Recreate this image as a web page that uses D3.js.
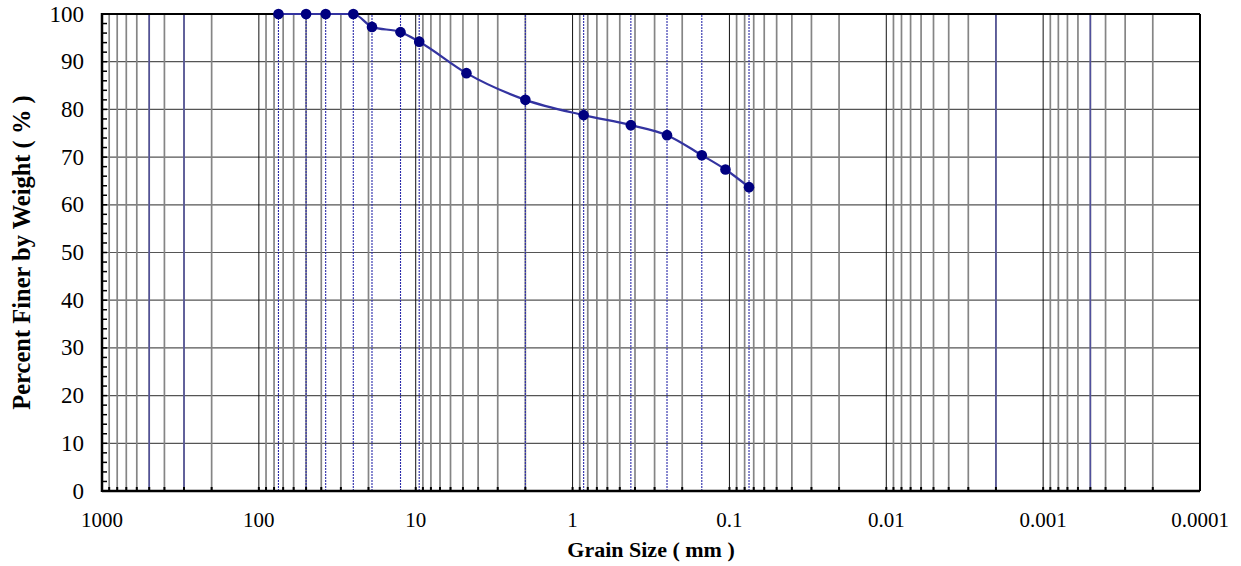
<!DOCTYPE html>
<html>
<head>
<meta charset="utf-8">
<script src="https://cdn.jsdelivr.net/npm/d3@7"></script>
<style>
  html, body { margin: 0; padding: 0; background: #fff; }
  svg { display: block; }
  svg text { font-family: "Liberation Serif", "Times New Roman", "DejaVu Serif", serif; fill: #000; }
</style>
</head>
<body>
<svg id="chart" width="1241" height="566"></svg>
<script>
// Grain size distribution (sieve analysis)
const grainSize = [75, 50, 37.5, 25, 19, 12.5, 9.5, 4.75, 2.0, 0.85, 0.425, 0.25, 0.15, 0.106, 0.075];
const percentFiner = [100, 100, 100, 100, 97.3, 96.2, 94.2, 87.6, 82.0, 78.8, 76.7, 74.6, 70.4, 67.4, 63.7];

// Axis labels
const xTickValues = [1000, 100, 10, 1, 0.1, 0.01, 0.001, 0.0001];
const xTickLabels = ["1000", "100", "10", "1", "0.1", "0.01", "0.001", "0.0001"];
const yTickValues = [0, 10, 20, 30, 40, 50, 60, 70, 80, 90, 100];

// Reference lines: sieve openings (dotted) and size-class boundaries (solid)
const sieveLines = [75, 50, 37.5, 25, 19, 12.5, 9.5, 2.0, 0.85, 0.425, 0.25, 0.15, 0.075];
const classLines = [500, 300, 0.002, 0.0005];

const FONT = "'Liberation Serif', 'Times New Roman', 'DejaVu Serif', serif";

const svg = d3.select("#chart");
const margin = { left: 102, right: 41, top: 14, bottom: 75 };
const W = 1241, H = 566;

const x = d3.scaleLog().domain([1000, 0.0001]).range([margin.left, W - margin.right]);
const y = d3.scaleLinear().domain([0, 100]).range([H - margin.bottom, margin.top]);

const x0 = x.range()[0], x1 = x.range()[1];
const y0 = y.range()[0], y1 = y.range()[1];

// log-cycle multiples within each decade
const minorVals = [];
const decadeVals = [];
for (let e = 2; e >= -4; e--) {
  const base = Math.pow(10, e);
  decadeVals.push(base * 10);
  for (let m = 2; m <= 9; m++) minorVals.push(+(base * m).toPrecision(6));
}
decadeVals.push(0.0001);

const grid = svg.append("g");

// horizontal grid
grid.selectAll("line.h").data(yTickValues.filter(v => v > 0 && v < 100)).join("line")
  .attr("x1", x0).attr("x2", x1)
  .attr("y1", d => y(d)).attr("y2", d => y(d))
  .attr("stroke", "#555").attr("stroke-width", 1.2);

// minor vertical grid
grid.selectAll("line.m").data(minorVals).join("line")
  .attr("x1", d => x(d)).attr("x2", d => x(d))
  .attr("y1", y0).attr("y2", y1)
  .attr("stroke", "#858585").attr("stroke-width", 1.7);

// decade lines
grid.selectAll("line.d").data(decadeVals.filter(v => v < 1000 && v > 0.0001)).join("line")
  .attr("x1", d => x(d)).attr("x2", d => x(d))
  .attr("y1", y0).attr("y2", y1)
  .attr("stroke", "#111").attr("stroke-width", 1);

// size-class boundaries
grid.selectAll("line.c").data(classLines).join("line")
  .attr("x1", d => x(d)).attr("x2", d => x(d))
  .attr("y1", y0).attr("y2", y1)
  .attr("stroke", "#50509c").attr("stroke-width", 1.5);

// sieve opening lines
grid.selectAll("line.s").data(sieveLines).join("line")
  .attr("x1", d => x(d)).attr("x2", d => x(d))
  .attr("y1", y0).attr("y2", y1)
  .attr("stroke", "#2a2aaa").attr("stroke-width", 1.1)
  .attr("stroke-dasharray", "2,1");

// bottom ticks (inward)
svg.append("g").selectAll("line").data(minorVals.concat(decadeVals)).join("line")
  .attr("x1", d => x(d)).attr("x2", d => x(d))
  .attr("y1", y0).attr("y2", y0 - 4)
  .attr("stroke", "#000").attr("stroke-width", 2);

// left ticks (inward), every 2 %
svg.append("g").selectAll("line").data(d3.range(0, 101, 2)).join("line")
  .attr("x1", x0).attr("x2", x0 + 5)
  .attr("y1", d => y(d)).attr("y2", d => y(d))
  .attr("stroke", "#000").attr("stroke-width", 1.5);

// frame
svg.append("line").attr("x1", x0).attr("x2", x1).attr("y1", y1).attr("y2", y1)
  .attr("stroke", "#000").attr("stroke-width", 2);
svg.append("line").attr("x1", x1).attr("x2", x1).attr("y1", y1).attr("y2", y0)
  .attr("stroke", "#000").attr("stroke-width", 2);
svg.append("line").attr("x1", x0).attr("x2", x1).attr("y1", y0).attr("y2", y0)
  .attr("stroke", "#000").attr("stroke-width", 2.5);
svg.append("line").attr("x1", x0).attr("x2", x0).attr("y1", y1 - 1).attr("y2", y0 + 1)
  .attr("stroke", "#000").attr("stroke-width", 2.5);

// tick labels
svg.append("g").selectAll("text").data(xTickValues).join("text")
  .attr("x", d => x(d)).attr("y", 527)
  .attr("text-anchor", "middle")
  .attr("font-family", FONT)
  .attr("font-size", 21)
  .text((d, i) => xTickLabels[i]);

svg.append("g").selectAll("text").data(yTickValues).join("text")
  .attr("x", 84).attr("y", d => y(d) + 7.5)
  .attr("text-anchor", "end")
  .attr("font-family", FONT)
  .attr("font-size", 23)
  .text(d => d);

// axis titles
svg.append("text")
  .attr("x", 651).attr("y", 557)
  .attr("text-anchor", "middle")
  .attr("font-family", FONT)
  .attr("font-size", 22).attr("font-weight", "bold")
  .text("Grain Size ( mm )");

svg.append("text")
  .attr("transform", `translate(30, ${(y0 + y1) / 2}) rotate(-90)`)
  .attr("text-anchor", "middle")
  .attr("font-family", FONT)
  .attr("font-size", 24.5).attr("font-weight", "bold")
  .text("Percent Finer by Weight ( % )");

// gradation curve
const pts = grainSize.map((g, i) => [x(g), y(percentFiner[i])]);
svg.append("path")
  .attr("d", d3.line().curve(d3.curveMonotoneX)(pts))
  .attr("fill", "none").attr("stroke", "#3333a0").attr("stroke-width", 2.2);

svg.append("g").selectAll("circle").data(pts).join("circle")
  .attr("cx", d => d[0]).attr("cy", d => d[1]).attr("r", 5.3)
  .attr("fill", "#000080");
</script>
</body>
</html>
